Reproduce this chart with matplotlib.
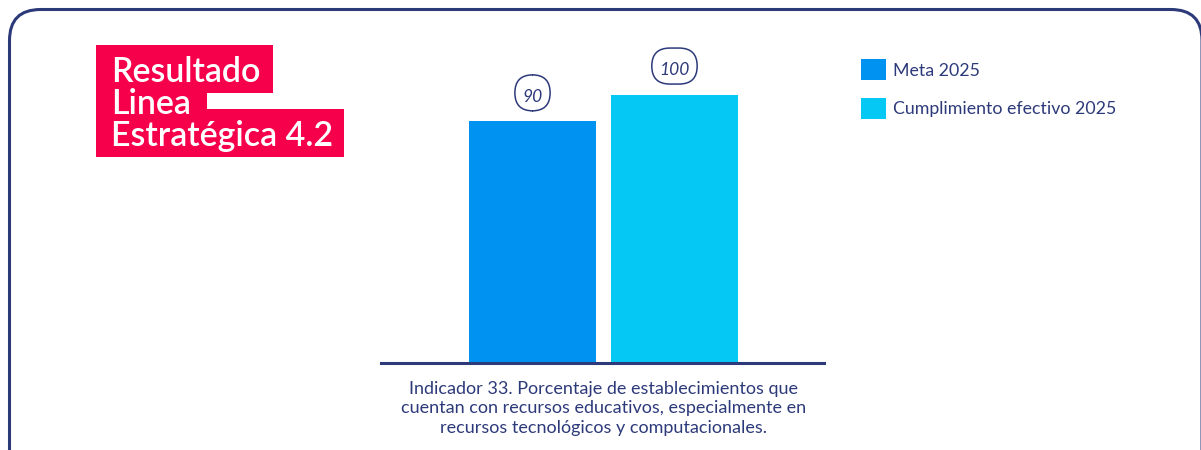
import matplotlib
matplotlib.use("Agg")
import matplotlib.pyplot as plt
from matplotlib.patches import FancyBboxPatch, Rectangle

plt.rcParams['font.family'] = ['Lato', 'DejaVu Sans']

# Data
series = ["Meta 2025", "Cumplimiento efectivo 2025"]
values = [90, 100]
category = ("Indicador 33. Porcentaje de establecimientos que\n"
            "cuentan con recursos educativos, especialmente en\n"
            "recursos tecnológicos y computacionales.")
title_lines = ["Resultado", "Linea", "Estratégica 4.2"]

NAVY = "#2d3a7a"
PINK = "#f7004b"
COLORS = ["#0092f0", "#05c8f5"]

W, H = 1201, 450
fig = plt.figure(figsize=(W / 100, H / 100), dpi=100)
fig.patch.set_facecolor("white")

# Overlay in pixel coordinates for the frame, title block and value bubbles
ov = fig.add_axes([0, 0, 1, 1])
ov.set_xlim(0, W)
ov.set_ylim(H, 0)
ov.axis("off")

frame = FancyBboxPatch((9.5, 9.5), W - 8.5, 480, boxstyle="round,pad=0,rounding_size=31",
                       fill=False, edgecolor=NAVY, linewidth=2.2)
ov.add_patch(frame)

# Title block: one pink box per line
boxes = [(96, 45, 177, 48), (96, 92, 111, 34), (96, 109, 248, 48)]
for x, y, w, h in boxes:
    ov.add_patch(Rectangle((x, y), w, h, facecolor=PINK, edgecolor="none"))
for i, line in enumerate(title_lines):
    ov.text(111, 82 + 32 * i, line, color="white", fontsize=24.5, fontweight="semibold",
            va="baseline", ha="left")

# Bar chart
ax = fig.add_axes([381 / W, (H - 362.5) / H, (824 - 381) / W, 321.6 / H])
ax.set_xlim(-1.067, 2.053)
ax.set_ylim(0, 120)
xs = list(range(len(values)))
bars = ax.bar(xs, values, width=0.894, color=COLORS, label=series, zorder=1)

LABEL_FS = 12.5
labels = []
for x, v in zip(xs, values):
    t = ax.annotate(f"{v:g}", xy=(x, v), xytext=(0, 14), textcoords="offset points",
                    ha="center", va="baseline", fontsize=LABEL_FS, fontstyle="italic",
                    color=NAVY, zorder=5)
    labels.append(t)

for s in ["top", "right", "left"]:
    ax.spines[s].set_visible(False)
ax.spines["bottom"].set_color(NAVY)
ax.spines["bottom"].set_linewidth(2.2)
ax.set_yticks([])
ax.set_xticks([0.5])
ax.set_xticklabels([category], fontsize=13, color=NAVY, linespacing=1.3)
ax.tick_params(axis="x", length=0, pad=13)
ax.patch.set_alpha(0)

fig.legend(handles=bars.patches, labels=series, loc="upper left",
           bbox_to_anchor=(861 / W, 1 - 59.5 / H), borderaxespad=0, borderpad=0,
           frameon=False, fontsize=12.8, labelcolor=NAVY, handlelength=1.4,
           handleheight=1.4, handletextpad=0.4, labelspacing=1.02)

# Rounded bubbles around the value labels, sized from the rendered text
fig.canvas.draw()
renderer = fig.canvas.get_renderer()
to_ov = ov.transData.inverted()
for t in labels:
    bb = t.get_window_extent(renderer)
    (x0, ybase), (x1, _) = to_ov.transform([(bb.x0, bb.y0), (bb.x1, bb.y1)])
    cx = (x0 + x1) / 2
    bw, bh = (x1 - x0) + 15, 36
    cy = ybase - bh / 2 + 6
    ov.add_patch(FancyBboxPatch((cx - bw / 2, cy - bh / 2), bw, bh,
                                boxstyle=f"round,pad=0,rounding_size={bh / 2}",
                                fc="none", ec=NAVY, lw=1.1, zorder=4))

fig.savefig("out.png", dpi=100)
